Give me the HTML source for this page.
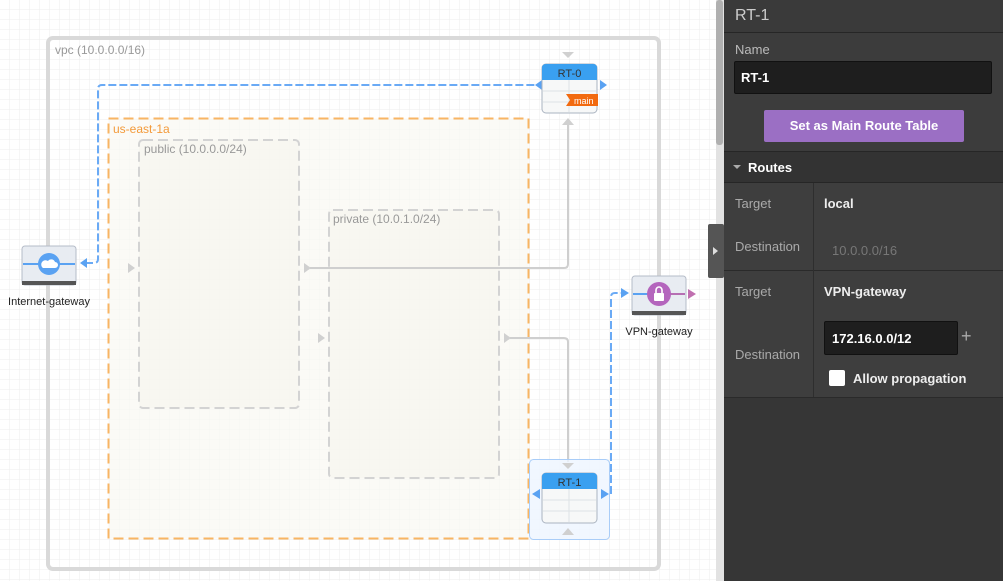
<!DOCTYPE html>
<html><head><meta charset="utf-8"><style>
body{margin:0;width:1003px;height:581px;overflow:hidden;font-family:"Liberation Sans",sans-serif;position:relative;background:#fff}
.p{position:absolute}
.panel{left:724px;top:0;width:279px;height:581px;background:#363636;color:#ddd;font-size:13px}
.t{position:absolute;white-space:nowrap}
</style></head><body>
<svg class="p" style="left:0;top:0" width="724" height="581">
<defs>
<pattern id="g" width="10" height="10" patternUnits="userSpaceOnUse"><path d="M10 0V10H0" fill="none" stroke="#eeeeee" stroke-width="1"/></pattern>
</defs>
<rect width="724" height="581" fill="#fff"/>
<rect width="724" height="581" fill="url(#g)"/>
<rect x="48" y="38" width="611" height="531" rx="5" fill="none" stroke="#d9d9d9" stroke-width="4"/>
<text x="55" y="54" font-size="12" fill="#999">vpc (10.0.0.0/16)</text>
<rect x="108.5" y="118.5" width="420" height="420" fill="#faf8f2" fill-opacity="0.7" stroke="#f8b564" stroke-width="2" stroke-dasharray="10,5"/>
<text x="113" y="133" font-size="12" fill="#f39a3a">us-east-1a</text>
<rect x="139" y="140" width="160" height="268" rx="4" fill="#f7f5ef" fill-opacity="0.6" stroke="#d3d3d3" stroke-width="2" stroke-dasharray="10,5"/>
<text x="144" y="153" font-size="12" fill="#999">public (10.0.0.0/24)</text>
<rect x="329" y="210" width="170" height="268" rx="4" fill="#f7f5ef" fill-opacity="0.6" stroke="#d3d3d3" stroke-width="2" stroke-dasharray="10,5"/>
<text x="333" y="223" font-size="12" fill="#999">private (10.0.1.0/24)</text>
<!-- gray connectors -->
<path d="M310 268H564Q568 268 568 264V124" fill="none" stroke="#cfcfcf" stroke-width="2"/>
<path d="M510 338H564Q568 338 568 342V462" fill="none" stroke="#cfcfcf" stroke-width="2"/>
<polygon points="128,263 135,268 128,273" fill="#d0d0d0"/>
<polygon points="304,263 311,268 304,273" fill="#d0d0d0"/>
<polygon points="318,333 325,338 318,343" fill="#d0d0d0"/>
<polygon points="504,333 511,338 504,343" fill="#d0d0d0"/>
<polygon points="562,52 574,52 568,58" fill="#d0d0d0"/>
<polygon points="562,125 574,125 568,118" fill="#d0d0d0"/>
<!-- blue dashed -->
<path d="M85 263H94Q98 263 98 259V89Q98 85 102 85H540" fill="none" stroke="#6aaaf5" stroke-width="2" stroke-dasharray="8,3"/>
<path d="M611 494V297Q611 293 615 293H624" fill="none" stroke="#6aaaf5" stroke-width="2" stroke-dasharray="8,3"/>
<polygon points="80,263 87,258 87,268" fill="#5aa2f2"/>
<polygon points="535,85 542,80 542,90" fill="#5aa2f2"/>
<polygon points="600,80 607,85 600,90" fill="#5aa2f2"/>
<polygon points="621,288 629,293 621,298" fill="#5aa2f2"/>
<polygon points="688,289 696,294 688,299" fill="#c070b0"/>
<!-- RT-0 -->
<rect x="542" y="64" width="55" height="49" rx="4" fill="#f7f8f8" stroke="#aab3c0"/>
<path d="M542 80V68Q542 64 546 64H593Q597 64 597 68V80Z" fill="#3aa0f0"/>
<text x="569.5" y="77" font-size="11" fill="#333" text-anchor="middle">RT-0</text>
<path d="M543 91H596M543 102H596M569 80V112" stroke="#dde2e6"/>
<polygon points="566,94 598,94 598,106 566,106 570,100" fill="#f26a10"/>
<text x="574" y="104" font-size="9" fill="#fff">main</text>
<!-- RT-1 -->
<rect x="529.5" y="459.5" width="80" height="80" rx="4" fill="#eef5ff" fill-opacity="0.8" stroke="#a9cdf8"/>
<rect x="542" y="473" width="55" height="50" rx="4" fill="#f7f8f8" stroke="#aab3c0"/>
<path d="M542 489V477Q542 473 546 473H593Q597 473 597 477V489Z" fill="#3aa0f0"/>
<text x="569.5" y="486" font-size="11" fill="#333" text-anchor="middle">RT-1</text>
<path d="M543 500H596M543 511H596M569 489V522" stroke="#dde2e6"/>
<polygon points="562,463 574,463 568,469" fill="#d0d0d0"/>
<polygon points="562,535 574,535 568,528" fill="#d0d0d0"/>
<polygon points="532,494 540,489 540,499" fill="#5aa2f2"/>
<polygon points="601,489 609,494 601,499" fill="#5aa2f2"/>
<!-- IGW -->
<rect x="22" y="246" width="54" height="39" rx="3" fill="#e8ecf2" stroke="#b5bcc8"/>
<rect x="22" y="281" width="54" height="4" fill="#555"/>
<line x1="23" y1="264" x2="75" y2="264" stroke="#5aa2f2" stroke-width="2"/>
<circle cx="49" cy="264" r="11" fill="#5aa2f2"/>
<path d="M43 268h12a3 3 0 0 0 0-6 4 4 0 0 0-7-1 3 3 0 0 0-5 7z" fill="#fff"/>
<text x="49" y="305" font-size="11" fill="#222" text-anchor="middle">Internet-gateway</text>
<!-- VPN -->
<rect x="632" y="276" width="54" height="39" rx="3" fill="#e8ecf2" stroke="#b5bcc8"/>
<rect x="632" y="311" width="54" height="4" fill="#555"/>
<line x1="633" y1="294" x2="659" y2="294" stroke="#5aa2f2" stroke-width="2"/>
<line x1="659" y1="294" x2="685" y2="294" stroke="#b66fb3" stroke-width="2"/>
<circle cx="659" cy="294" r="12" fill="#b465bd"/>
<rect x="654" y="293" width="10" height="8" rx="1" fill="#fff"/>
<path d="M656 293v-3a3 3 0 0 1 6 0v3" fill="none" stroke="#fff" stroke-width="1.6"/>
<text x="659" y="335" font-size="11" fill="#222" text-anchor="middle">VPN-gateway</text>
<!-- scrollbar -->
<rect x="716" y="0" width="8" height="581" fill="#e2e2e2"/>
<rect x="716" y="0" width="7" height="145" rx="3" fill="#b0b0b0"/>
<rect x="708" y="224" width="16" height="54" rx="2" fill="#555"/>
<polygon points="713,247 718,251 713,255" fill="#ddd"/>
</svg>
<div class="p panel">
 <div class="p" style="left:0;top:0;width:279px;height:32px;background:#3a3a3a;border-bottom:1px solid #262626"></div>
 <div class="t" style="left:11px;top:7px;font-size:16px;color:#ccc">RT-1</div>
 <div class="p" style="left:0;top:33px;width:279px;height:118px;background:#3c3c3c;border-bottom:1px solid #262626"></div>
 <div class="t" style="left:11px;top:42px;color:#bbb">Name</div>
 <div class="p" style="left:10px;top:61px;width:256px;height:31px;background:#1e1e1e;border:1px solid #111;border-radius:2px"></div>
 <div class="t" style="left:17px;top:70px;color:#fff;font-weight:bold">RT-1</div>
 <div class="p" style="left:40px;top:110px;width:200px;height:32px;background:#9b6fc4;border-radius:2px;color:#fff;font-weight:bold;text-align:center;line-height:32px">Set as Main Route Table</div>
 <div class="p" style="left:0;top:152px;width:279px;height:30px;background:#333;border-bottom:1px solid #262626"></div>
 <div class="p" style="left:9px;top:165px;border-left:4px solid transparent;border-right:4px solid transparent;border-top:4px solid #aaa"></div>
 <div class="t" style="left:24px;top:160px;color:#fff;font-weight:bold">Routes</div>
 <div class="p" style="left:0;top:183px;width:279px;height:87px;background:#3e3e3e;border-bottom:1px solid #2a2a2a"></div>
 <div class="p" style="left:0;top:271px;width:279px;height:126px;background:#3e3e3e;border-bottom:1px solid #2a2a2a"></div>
 <div class="p" style="left:89px;top:183px;width:1px;height:214px;background:#2e2e2e"></div>
 <div class="t" style="left:11px;top:196px;color:#aaa">Target</div>
 <div class="t" style="left:100px;top:196px;color:#eee;font-weight:bold">local</div>
 <div class="t" style="left:11px;top:239px;color:#aaa">Destination</div>
 <div class="t" style="left:108px;top:243px;color:#777">10.0.0.0/16</div>
 <div class="t" style="left:11px;top:284px;color:#aaa">Target</div>
 <div class="t" style="left:100px;top:284px;color:#eee;font-weight:bold">VPN-gateway</div>
 <div class="t" style="left:11px;top:347px;color:#aaa">Destination</div>
 <div class="p" style="left:100px;top:321px;width:132px;height:32px;background:#1e1e1e;border:1px solid #111;border-radius:2px"></div>
 <div class="t" style="left:108px;top:331px;color:#fff;font-weight:bold">172.16.0.0/12</div>
 <div class="t" style="left:237px;top:326px;color:#aaa;font-size:18px">+</div>
 <div class="p" style="left:105px;top:370px;width:16px;height:16px;background:#fff;border-radius:2px"></div>
 <div class="t" style="left:129px;top:371px;color:#eee;font-weight:bold">Allow propagation</div>
</div>
</body></html>
